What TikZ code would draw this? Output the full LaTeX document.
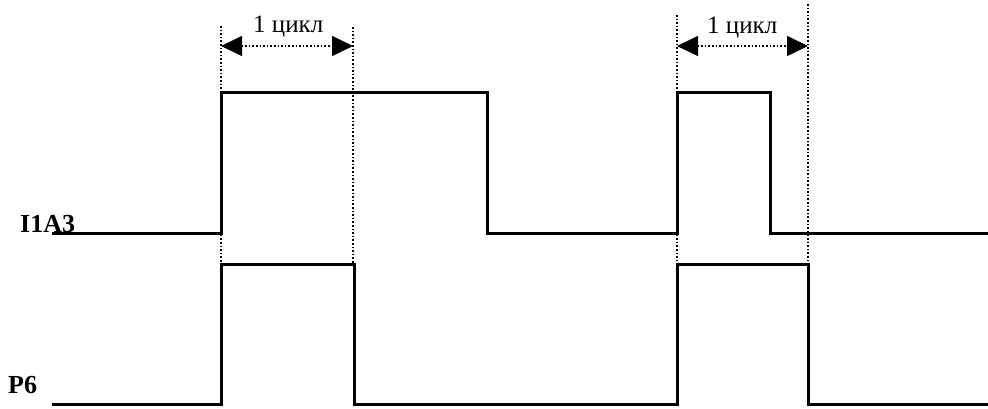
\documentclass[tikz,border=0pt]{standalone}
\usepackage{fontspec}
\setmainfont{Liberation Serif}
\usetikzlibrary{arrows.meta}
\begin{document}
\begin{tikzpicture}[x=1pt,y=-1pt,
  signal/.style={line width=3pt,line join=miter},
  guide/.style={line width=1.6pt,dash pattern=on 1.6pt off 2pt},
  span/.style={line width=1.6pt,dash pattern=on 1.6pt off 2pt,{Triangle[length=21pt,width=20pt]}-{Triangle[length=21pt,width=20pt]}},
  cyc/.style={font=\fontsize{25}{27}\selectfont,inner sep=0pt,anchor=base west},
  sig/.style={font=\fontsize{26}{28}\selectfont\bfseries,inner sep=0pt,anchor=base west}]
\useasboundingbox (0,0) rectangle (988,409);
% guides
\coordinate (g1t) at (221,26); \coordinate (g1b) at (221,264);
\coordinate (g2t) at (353,27); \coordinate (g2b) at (353,264);
\coordinate (g3t) at (677,15); \coordinate (g3b) at (677,264);
\coordinate (g4t) at (808,4); \coordinate (g4b) at (808,264);
\draw[guide] (g1t) -- (g1b);
\draw[guide] (g2t) -- (g2b);
\draw[guide] (g3t) -- (g3b);
\draw[guide] (g4t) -- (g4b);
% spans
\coordinate (a1l) at (221,46); \coordinate (a1r) at (353,46);
\coordinate (a2l) at (677,46); \coordinate (a2r) at (808,46);
\draw[span] (a1l) -- (a1r);
\draw[span] (a2l) -- (a2r);
\node[cyc] (c1) at (253,33) {1 цикл};
\node[cyc] (c2) at (707,34) {1 цикл};
% signals
\draw[signal] (52,233) -- (221,233) -- (221,93) -- (487,93) -- (487,233) -- (677,233) -- (677,93) -- (770,93) -- (770,233) -- (988,233);
\draw[signal] (52,404) -- (221,404) -- (221,264) -- (354,264) -- (354,404) -- (677,404) -- (677,264) -- (808,264) -- (808,404) -- (988,404);
\node[sig] (l1) at (20,232) {I1A3};
\node[sig] (l2) at (8,393) {P6};
\end{tikzpicture}
\end{document}
